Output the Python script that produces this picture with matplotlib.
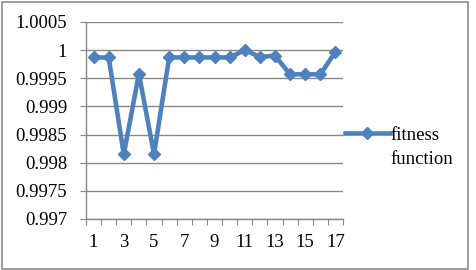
import numpy as np
import matplotlib
matplotlib.use("Agg")
import matplotlib.pyplot as plt
from matplotlib.patches import Rectangle

# data
runs = list(range(1, 18))
fitness = [0.99987, 0.99987, 0.99815, 0.99958, 0.99815, 0.99987, 0.99987, 0.99987,
           0.99987, 0.99987, 1.00000, 0.99988, 0.99990, 0.99957, 0.99957, 0.99957, 0.99997]
y_ticks = [0.997, 0.9975, 0.998, 0.9985, 0.999, 0.9995, 1.0, 1.0005]
y_labels = ['0.997', '0.9975', '0.998', '0.9985', '0.999', '0.9995', '1', '1.0005']
x_labels = [str(r) if r % 2 == 1 else '' for r in runs]

plt.rcParams['font.family'] = ['Liberation Serif', 'DejaVu Serif']
FS = 13.5

W, H = 476, 270
fig = plt.figure(figsize=(W / 100, H / 100), dpi=100)

# axes box in pixel coords: left 86, right 343, top 22, bottom 219
ax = fig.add_axes([86 / W, 1 - 219 / H, (343 - 86) / W, (219 - 22) / H])

line_col = '#4F81BD'
grid_col = '#878787'

ax.plot(runs, fitness, color=line_col, lw=3.3, marker='D', ms=6.5,
        markeredgecolor=line_col, markerfacecolor=line_col, label='fitness',
        clip_on=False, zorder=3)

ax.set_xlim(0.5, 17.5)
ax.set_ylim(0.997, 1.0005)
ax.set_yticks(y_ticks)
ax.set_yticklabels(y_labels, fontsize=FS)
ax.yaxis.grid(True, color=grid_col, lw=1)
ax.set_axisbelow(True)

# category ticks between points, labels at points
ax.set_xticks(np.arange(0.5, 18.0, 1.0))
ax.set_xticklabels([])
ax.set_xticks(runs, minor=True)
ax.set_xticklabels(x_labels, minor=True, fontsize=FS)
ax.tick_params(axis='x', which='major', length=4, color=grid_col, direction='out')
ax.tick_params(axis='x', which='minor', length=0, pad=11)
ax.tick_params(axis='y', length=4.5, color=grid_col, pad=9)

for s in ['top', 'right']:
    ax.spines[s].set_visible(False)
for s in ['left', 'bottom']:
    ax.spines[s].set_color(grid_col)
    ax.spines[s].set_linewidth(1)

leg = fig.legend(loc='center left', bbox_to_anchor=(339 / W, 1 - 135 / H),
                 frameon=False, fontsize=FS, handlelength=2.4, handletextpad=0.05,
                 borderpad=0.3, borderaxespad=0)

# second line of the legend label sits under "fitness"
fig.canvas.draw()
bb = leg.get_texts()[0].get_window_extent()
fig.text(bb.x0 / W, (bb.y0 - 24) / H, 'function', fontsize=FS, ha='left', va='bottom')

# outer chart border
fig.add_artist(Rectangle((1.5 / W, 1.5 / H), (467.5 - 1.5) / W, (H - 3) / H,
                         transform=fig.transFigure, fill=False,
                         edgecolor='#8c8c8c', lw=1.2))

fig.savefig('out.png', dpi=100)
